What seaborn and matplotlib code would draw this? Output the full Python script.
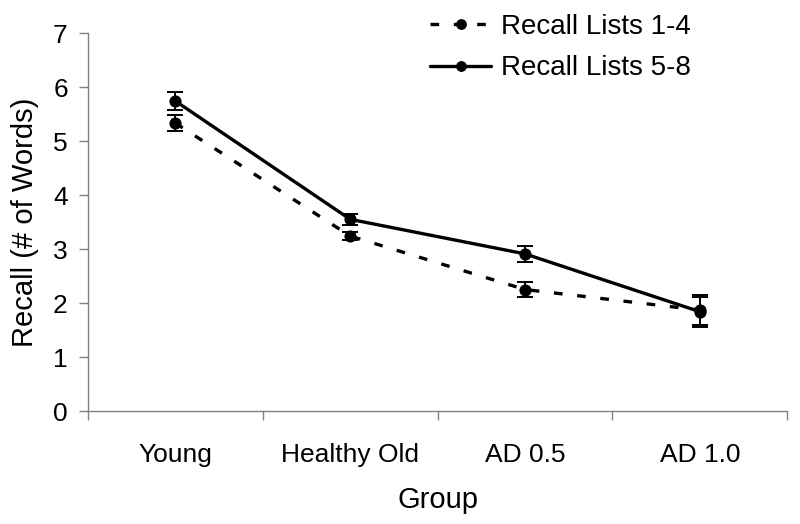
import numpy as np
import pandas as pd
import matplotlib
matplotlib.use("Agg")
import matplotlib.pyplot as plt
import seaborn as sns
from matplotlib.ticker import FixedLocator

groups = ["Young", "Healthy Old", "AD 0.5", "AD 1.0"]
recall_1_4 = [5.33, 3.24, 2.25, 1.87]
recall_5_8 = [5.74, 3.55, 2.91, 1.84]
err_1_4 = [0.15, 0.08, 0.14, 0.27]
err_5_8 = [0.17, 0.10, 0.15, 0.28]
series_names = ["Recall Lists 1-4", "Recall Lists 5-8"]

df = pd.DataFrame({
    "Group": groups * 2,
    "Recall": recall_1_4 + recall_5_8,
    "err": err_1_4 + err_5_8,
    "Series": [series_names[0]] * 4 + [series_names[1]] * 4,
})

sns.set_style("white")
plt.rcParams["font.family"] = ["Liberation Sans", "DejaVu Sans"]
plt.rcParams["text.color"] = "black"
plt.rcParams["axes.labelcolor"] = "black"
plt.rcParams["xtick.labelcolor"] = "black"
plt.rcParams["ytick.labelcolor"] = "black"

fig = plt.figure(figsize=(8, 5.24), dpi=100)
ax = fig.add_axes([0.11, 0.2156, 0.874, 0.7214])

sns.lineplot(data=df, x="Group", y="Recall", style="Series", sort=False,
             dashes={series_names[0]: (2.6, 4.4), series_names[1]: ""},
             markers={series_names[0]: "o", series_names[1]: "o"},
             color="black", lw=2.4, markersize=8, markeredgecolor="black",
             ax=ax, legend=True)

for name in series_names:
    sub = df[df["Series"] == name]
    ax.errorbar(np.arange(len(sub)), sub["Recall"], yerr=sub["err"], fmt="none",
                ecolor="black", elinewidth=1.4, capsize=5.5, capthick=1.4, zorder=3)

ax.set_xlim(-0.5, 3.5)
ax.set_ylim(0, 7)
ax.set_yticks(range(0, 8))
ax.xaxis.set_minor_locator(FixedLocator(np.arange(-0.5, 4.0, 1.0)))
ax.tick_params(axis="x", which="major", length=0, pad=23, labelsize=19)
ax.tick_params(axis="x", which="minor", length=6.5, width=1, color="#808080", direction="out", bottom=True)
ax.tick_params(axis="y", length=6.5, width=1, color="#808080", direction="out", left=True, labelsize=19, pad=8)
for side in ["top", "right"]:
    ax.spines[side].set_visible(False)
for side in ["left", "bottom"]:
    ax.spines[side].set_color("#808080")
    ax.spines[side].set_linewidth(1)

ax.set_xlabel("Group", fontsize=21, labelpad=14)
ax.set_ylabel("Recall (# of Words)", fontsize=21, labelpad=10)

handles, labels = ax.get_legend_handles_labels()
for h in handles:
    h.set_markersize(7)
ax.legend(handles, labels, loc="upper left", bbox_to_anchor=(0.517, 1.005),
          bbox_transform=fig.transFigure, borderpad=0.1,
          frameon=False, fontsize=20, handlelength=2.2, handletextpad=0.35,
          labelspacing=0.55)

fig.savefig("out.png", dpi=100)
